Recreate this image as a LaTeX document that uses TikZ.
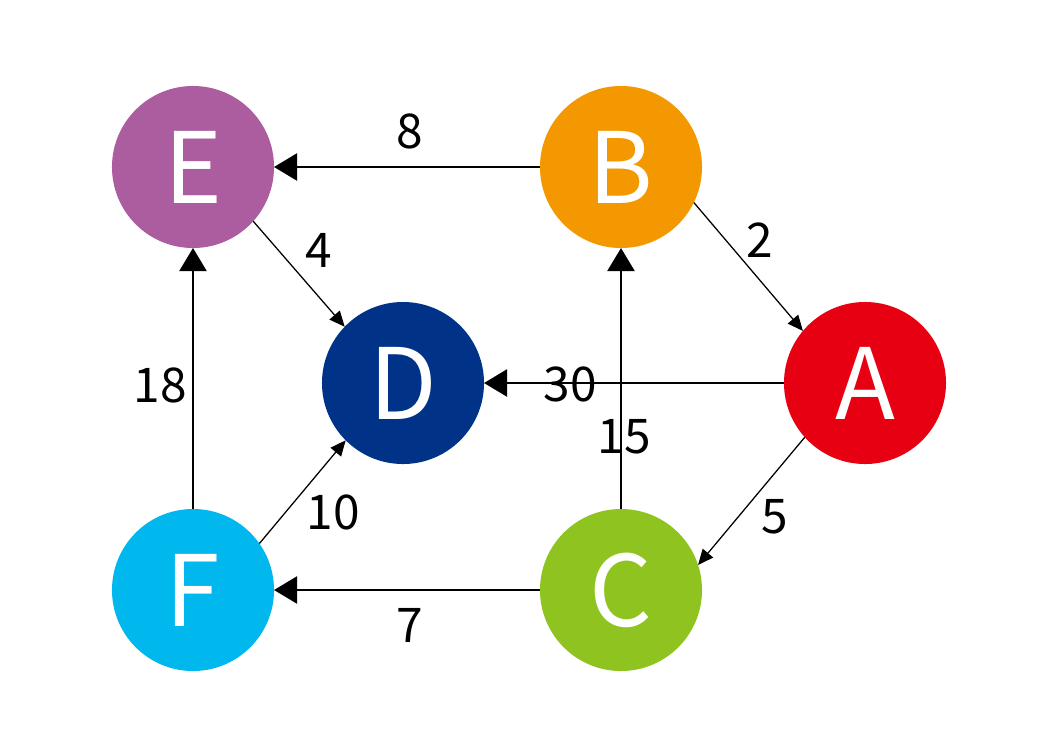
\documentclass[tikz,border=0pt]{standalone}
\usepackage{fontspec}
\setmainfont{Noto Sans CJK JP}
\usetikzlibrary{arrows.meta}
\definecolor{colA}{HTML}{E60012}
\definecolor{colB}{HTML}{F39800}
\definecolor{colC}{HTML}{8FC31F}
\definecolor{colD}{HTML}{003388}
\definecolor{colE}{HTML}{AB5DA0}
\definecolor{colF}{HTML}{00B7EE}
\begin{document}
\begin{tikzpicture}[x=0.025cm, y=-0.025cm, vertexStyle/.style={circle, inner sep=0pt, outer sep=0pt, minimum size=4.05cm, text=white, font=\fontsize{70}{70}\selectfont}, weightStyle/.style={inner sep=0pt, font=\fontsize{34}{34}\selectfont}, heavyEdge/.style={line width=1.8pt, -{Triangle[length=16.4pt, width=19.2pt]}}, lightEdge/.style={line width=0.9pt, -{Triangle[length=11pt, width=9.6pt]}}]
    \useasboundingbox (0,0) rectangle (1040,746);

    \node[vertexStyle, fill=colE] (E) at (193,167) {E};
    \node[vertexStyle, fill=colB] (B) at (621,167) {B};
    \node[vertexStyle, fill=colD] (D) at (403,383) {D};
    \node[vertexStyle, fill=colA] (A) at (865,383) {A};
    \node[vertexStyle, fill=colF] (F) at (193,590) {F};
    \node[vertexStyle, fill=colC] (C) at (621,590) {C};

    \draw[heavyEdge] (B) -- (E);
    \draw[heavyEdge] (A) -- (D);
    \draw[heavyEdge] (C) -- (B);
    \draw[heavyEdge] (C) -- (F);
    \draw[heavyEdge] (F) -- (E);
    \draw[lightEdge] (B.-26) -- (A.140.6);
    \draw[lightEdge] (A.222.5) -- (C.18);
    \draw[lightEdge] (E.-42) -- (D.136);
    \draw[lightEdge] (F.35) -- (D.225.5);

    \node[weightStyle] (w_BE) at (410,131) {8};
    \node[weightStyle] (w_ED) at (319,250) {4};
    \node[weightStyle] (w_BA) at (760,240) {2};
    \node[weightStyle] (w_AD) at (570,384) {30};
    \node[weightStyle] (w_CB) at (624,437) {15};
    \node[weightStyle] (w_AC) at (775,517) {5};
    \node[weightStyle] (w_CF) at (410,625) {7};
    \node[weightStyle] (w_FE) at (160,385) {18};
    \node[weightStyle] (w_FD) at (333,512) {10};
\end{tikzpicture}
\end{document}
